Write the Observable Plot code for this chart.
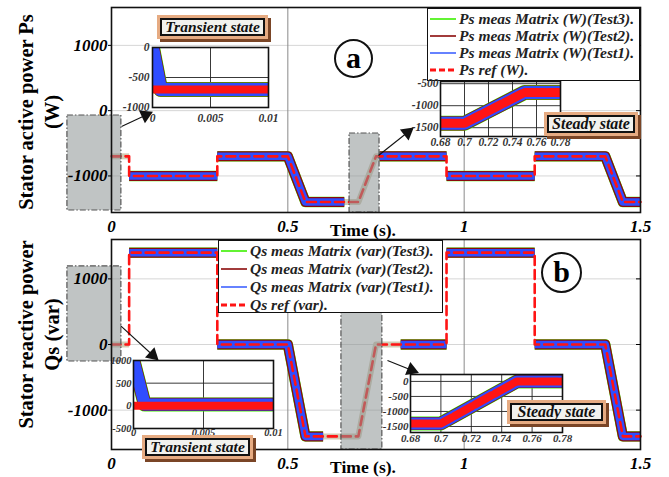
<!DOCTYPE html>
<html><head><meta charset="utf-8">
<script src="https://cdn.jsdelivr.net/npm/d3@7"></script>
<script src="https://cdn.jsdelivr.net/npm/@observablehq/plot@0.6"></script>
<style>
body{margin:0;background:#fff}
#root{position:relative;width:669px;height:477px;overflow:hidden;background:#fff;font-family:'Liberation Serif','Times New Roman',serif}
#root svg{overflow:visible}
.tag{position:absolute;box-sizing:border-box;background:#f2f2ee;border:2px solid #111;box-shadow:0 0 0 3px #e6ab82,3px 3px 0 3px #7a4526;font:italic bold 15.5px 'Liberation Serif',serif;display:flex;align-items:center;justify-content:center;color:#111;white-space:nowrap}
.legend{position:absolute;box-sizing:border-box;background:#fff;border:1.5px solid #111;font:italic bold 15.5px 'Liberation Serif',serif;color:#222}
.legend .row{position:absolute;left:2px;height:18px;display:flex;align-items:center;white-space:nowrap}
.legend .row svg{margin-right:3px}
.circ{position:absolute;box-sizing:border-box;border:2px solid #111;border-radius:50%;background:#fff;font:bold 30px 'Liberation Serif',serif;display:flex;align-items:center;justify-content:center;line-height:1}
</style></head><body><div id="root"></div>
<script>
// ---------- data ----------
const timeTicks = [0, 0.5, 1, 1.5];
const timeGrid = [0.5, 1];
const psTicks = [1000, 0, -1000];
const qsTicks = [1000, 0, -1000];

// reference breakpoints (s) and values
const refT  = [0, 0.05, 0.05, 0.3, 0.3, 0.5, 0.55, 0.7, 0.75, 0.95, 0.95, 1.2, 1.2, 1.4, 1.45, 1.5];
const psRef = [-700, -700, -1000, -1000, -700, -700, -1400, -1400, -700, -700, -1000, -1000, -700, -700, -1400, -1400];
const qsRef = [0, 0, 1400, 1400, 0, 0, -1400, -1400, 0, 0, 1400, 1400, 0, 0, -1400, -1400];

// measured traces (Test1/2/3 overlap) – dense segments
const measSeg = [1,1, 2,2,2,2, 3,3, 4,4, 5,5,5,5];
const psMeasT = [0.05,0.3, 0.3,0.5,0.55,0.66, 0.76,0.95, 0.95,1.2, 1.2,1.4,1.45,1.5];
const psMeasV = [-1000,-1000, -700,-700,-1400,-1400, -700,-700, -1000,-1000, -700,-700,-1400,-1400];
const qsMeasT = [0.05,0.3, 0.3,0.5,0.55,0.6, 0.82,0.95, 0.95,1.2, 1.2,1.4,1.45,1.5];
const qsMeasV = [1400,1400, 0,0,-1400,-1400, 0,0, 1400,1400, 0,0,-1400,-1400];
// measured traces – faint segments
const faintSeg = [1,1, 2,2,2,2];
const psFaintT = [0,0.05, 0.66,0.7,0.75,0.76];
const psFaintV = [-700,-700, -1400,-1400,-700,-700];
const qsFaintT = [0,0.05, 0.6,0.7,0.75,0.82];
const qsFaintV = [0,0, -1400,-1400,0,0];

// zoom windows (time s, value)
const psZoomT1 = [-0.125, 0.675], psZoomT2 = [0.028, 0.760];
const psZoomV1 = [-74, -350],     psZoomV2 = [-1529, -1560];
const qsZoomT1 = [-0.125, 0.652], qsZoomT2 = [0.028, 0.768];
const qsZoomV1 = [1189, 518],     qsZoomV2 = [-259, -1600];

// arrows (from zoom window to inset)
const psArrowT1 = [0.0284, 0.757], psArrowV1 = [-243, -687];
const psArrowT2 = [0.1134, 0.8535], psArrowV2 = [-28, -273];
const qsArrowT1 = [0.0255, 0.7826], qsArrowV1 = [289, -244];
const qsArrowT2 = [0.1304, 0.8676], qsArrowV2 = [-229, -427];

// insets
const trTicks = [0, 0.005, 0.01];
const trGrid = [0.005];
const trRefT = [0, 0.01];
const psTrRef = [-700, -700];
const psTrMeasT = [0, 0.0007, 0.01];
const psTrMeas = [0, -700, -700];
const qsTrRef = [0, 0];
const qsTrMeasT = [0, 0.0008, 0.01];
const qsTrMeas = [1000, 30, 30];
const psTrTicks = [0, -500, -1000];
const qsTrTicks = [1000, 500, 0, -500];

const ssTicks = [0.68, 0.7, 0.72, 0.74, 0.76, 0.78];
const ssT = [0.68, 0.7, 0.75, 0.78];
const psSs = [-1400, -1400, -700, -700];
const qsSs = [-1400, -1400, 0, 0];
const psSsTicks = [-500, -1000, -1500];
const qsSsTicks = [0, -500, -1000, -1500];

const psLegend = ["Ps meas Matrix (W)(Test3).", "Ps meas Matrix (W)(Test2).", "Ps meas Matrix (W)(Test1).", "Ps ref (W)."];
const qsLegend = ["Qs meas Matrix (var)(Test3).", "Qs meas Matrix (var)(Test2).", "Qs meas Matrix (var)(Test1).", "Qs ref (var)."];
const psTitle = "Stator active power Ps\n(W)";
const qsTitle = "Stator reactive power\nQs (var)";
const timeTitle = "Time (s).";

// ---------- styling ----------
const FONT = "'Liberation Serif','Times New Roman',serif";
const C_GREEN = "#3cf000", C_DRED = "#8b0a0a", C_BLUE = "#2f4dff", C_RED = "#ff1414", C_FAINT = "#d2cbb4";
const root = document.getElementById("root");
function place(el, left, top) { el.style.position = "absolute"; el.style.left = left + "px"; el.style.top = top + "px"; root.appendChild(el); }
const rows = (T, V, S) => T.map((t, i) => ({t, v: V[i], s: S ? S[i] : 0}));
const fmt = d => String(d);

function mainPanel(c) {
  const W = 669, ml = 111, mr = 29;
  const meas = rows(c.measT, c.measV, measSeg);
  const faint = rows(c.faintT, c.faintV, faintSeg);
  const ref = rows(refT, c.refV);
  const zooms = c.zT1.map((t1, i) => ({t1, t2: c.zT2[i], v1: c.zV1[i], v2: c.zV2[i]}));
  const xPix = d3.scaleLinear([0, 1.5], [ml, W - mr]);
  const yPix = d3.scaleLinear(c.yDomain, [c.height - c.mb, c.mt]);
  const arrows = c.aT1.map((t1, i) => {
    const x1 = xPix(t1), y1 = yPix(c.aV1[i]), x2 = xPix(c.aT2[i]), y2 = yPix(c.aV2[i]);
    const L = Math.hypot(x2 - x1, y2 - y1), ux = (x2 - x1) / L, uy = (y2 - y1) / L;
    return {t1, v1: c.aV1[i], t2: c.aT2[i], v2: c.aV2[i],
      angle: Math.atan2(ux, -uy) * 180 / Math.PI,
      ht: xPix.invert(x2 - ux * 6.5), hv: yPix.invert(y2 - uy * 6.5)};
  });
  return Plot.plot({
    width: W, height: c.height, marginLeft: ml, marginRight: mr, marginTop: c.mt, marginBottom: c.mb,
    x: {domain: [0, 1.5]}, y: {domain: c.yDomain},
    style: {fontFamily: FONT, background: "transparent", overflow: "visible"},
    marks: [
      Plot.gridY(c.yTicks, {stroke: "#d6d6d6", strokeOpacity: 1}),
      Plot.ruleX(timeGrid, {stroke: "#8a8a8a", strokeWidth: 1}),
      Plot.line(faint, {x: "t", y: "v", z: "s", stroke: C_FAINT, strokeWidth: 6, strokeLinecap: "butt"}),
      Plot.line(meas, {x: "t", y: "v", z: "s", stroke: C_GREEN, strokeWidth: 10.4, strokeLinecap: "butt"}),
      Plot.line(meas, {x: "t", y: "v", z: "s", stroke: C_DRED, strokeWidth: 10, strokeLinecap: "butt"}),
      Plot.line(meas, {x: "t", y: "v", z: "s", stroke: C_BLUE, strokeWidth: 7.5, strokeLinecap: "butt"}),
      Plot.line(ref, {x: "t", y: "v", stroke: C_RED, strokeWidth: 2.6, strokeDasharray: "9,5"}),
      Plot.rect(zooms, {x1: "t1", x2: "t2", y1: "v1", y2: "v2", fill: "#8c9494", fillOpacity: 0.55, stroke: "#555", strokeWidth: 1.2, strokeDasharray: "6,2,1.5,2"}),
      Plot.frame({stroke: "#111", strokeWidth: 1.6}),
      Plot.axisY({ticks: c.yTicks, tickSize: 3, tickPadding: 1, tickFormat: fmt, fontSize: 17, fontStyle: "italic", fontWeight: "bold", label: null}),
      Plot.axisY({anchor: "right", ticks: c.yTicks, tickSize: -5, tickFormat: () => "", label: null}),
      Plot.axisX({ticks: timeTicks, tickSize: 0, tickPadding: 7, tickFormat: fmt, fontSize: 17, fontStyle: "italic", fontWeight: "bold", label: null}),
      Plot.text([timeTitle], {frameAnchor: "bottom", lineAnchor: "middle", dx: -13, dy: 18, fontSize: 17.5, fontWeight: "bold"}),
      Plot.text([c.title], {frameAnchor: "left", textAnchor: "middle", lineAnchor: "middle", dx: 37 - ml, dy: c.titleDy, rotate: -90, fontSize: 20.5, fontWeight: "bold", lineHeight: 1.27}),
      Plot.link(arrows, {x1: "t1", y1: "v1", x2: "t2", y2: "v2", stroke: "#111", strokeWidth: 1.1}),
      Plot.dot(arrows, {x: "ht", y: "hv", symbol: "triangle", r: 5.2, fill: "#111", stroke: "none", rotate: "angle"})
    ]
  });
}

function inset(c) {
  const meas = rows(c.measT, c.measV);
  const ref = rows(c.refT, c.refV);
  const lab = {fontSize: c.fs, fontStyle: "italic", fontWeight: "bold", fill: "#333", tickSize: 0, tickFormat: fmt, label: null};
  return Plot.plot({
    width: c.width, height: c.height, marginLeft: c.ml, marginRight: c.mr, marginTop: c.mt, marginBottom: c.mb,
    x: {domain: c.xDomain}, y: {domain: c.yDomain},
    style: {fontFamily: FONT, background: "transparent", overflow: "visible"},
    marks: [
      Plot.frame({fill: "white", stroke: "none"}),
      Plot.ruleX(c.gridX, {stroke: "#222", strokeWidth: 0.9}),
      Plot.ruleY(c.gridY, {stroke: "#222", strokeWidth: 0.9}),
      Plot.line(meas, {x: "t", y: "v", stroke: C_GREEN, strokeWidth: c.mw + 2, clip: true}),
      Plot.line(meas, {x: "t", y: "v", stroke: C_DRED, strokeWidth: c.mw + 1.2, clip: true}),
      Plot.line(meas, {x: "t", y: "v", stroke: C_BLUE, strokeWidth: c.mw, clip: true}),
      Plot.line(ref, {x: "t", y: "v", stroke: C_RED, strokeWidth: c.rw, strokeDasharray: c.dash, clip: true}),
      Plot.frame({stroke: "#111", strokeWidth: 1.6}),
      Plot.axisY({...lab, ticks: c.yTicks, tickPadding: c.ypad}),
      Plot.axisX({...lab, ticks: c.xTicks, tickPadding: c.xpad})
    ]
  });
}

function tag(text, left, top, w, h, fs) {
  const d = document.createElement("div"); d.className = "tag"; d.textContent = text;
  d.style.width = w + "px"; d.style.height = h + "px"; if (fs) d.style.fontSize = fs + "px";
  place(d, left, top);
}
function legend(labels, left, top, w, h, first, step) {
  const box = document.createElement("div"); box.className = "legend";
  box.style.width = w + "px"; box.style.height = h + "px";
  const styles = [{s: C_GREEN, w: 1.6}, {s: C_DRED, w: 1.6}, {s: "#3f62ff", w: 1.6}, {s: C_RED, w: 2.8, d: "6,3"}];
  labels.forEach((lab, i) => {
    const r = document.createElement("div"); r.className = "row";
    r.style.top = (first + i * step - 9 - 1.5) + "px";
    const st = styles[i];
    r.innerHTML = `<svg width="26" height="8"><line x1="0" y1="4" x2="26" y2="4" stroke="${st.s}" stroke-width="${st.w}" ${st.d ? `stroke-dasharray="${st.d}"` : ""}/></svg>`;
    const sp = document.createElement("span"); sp.textContent = lab; r.appendChild(sp);
    box.appendChild(r);
  });
  place(box, left, top);
}
function circ(letter, cx, cy, r) {
  const d = document.createElement("div"); d.className = "circ"; d.textContent = letter;
  d.style.width = 2 * r + "px"; d.style.height = 2 * r + "px";
  place(d, cx - r, cy - r);
}

// ---------- build ----------
place(mainPanel({height: 237, mt: 7, mb: 25, yDomain: [-1560, 1580], yTicks: psTicks, refV: psRef,
  measT: psMeasT, measV: psMeasV, faintT: psFaintT, faintV: psFaintV,
  zT1: psZoomT1, zT2: psZoomT2, zV1: psZoomV1, zV2: psZoomV2,
  aT1: psArrowT1, aV1: psArrowV1, aT2: psArrowT2, aV2: psArrowV2, title: psTitle, titleDy: 2}), 0, 0);
place(mainPanel({height: 240, mt: 2, mb: 28, yDomain: [-1600, 1600], yTicks: qsTicks, refV: qsRef,
  measT: qsMeasT, measV: qsMeasV, faintT: qsFaintT, faintV: qsFaintV,
  zT1: qsZoomT1, zT2: qsZoomT2, zV1: qsZoomV1, zV2: qsZoomV2,
  aT1: qsArrowT1, aV1: qsArrowV1, aT2: qsArrowT2, aV2: qsArrowV2, title: qsTitle, titleDy: -10}), 0, 237);

legend(psLegend, 427, 8, 213, 73, 11, 17.3);
legend(qsLegend, 218, 240, 225, 73, 11, 18);

place(inset({width: 162, height: 88, ml: 40, mr: 6, mt: 7, mb: 21, xDomain: [0, 0.01], yDomain: [-1000, 0],
  xTicks: trTicks, yTicks: psTrTicks, gridX: trGrid, gridY: [-500], fs: 11.5, xpad: 6, ypad: 3,
  refT: trRefT, refV: psTrRef, measT: psTrMeasT, measV: psTrMeas, mw: 13, rw: 8, dash: "19,2"}), 112, 40);
place(inset({width: 166, height: 78, ml: 40, mr: 6, mt: 5, mb: 18, xDomain: [0.68, 0.78], yDomain: [-1700, -450],
  xTicks: ssTicks, yTicks: psSsTicks, gridX: ssTicks, gridY: psSsTicks, fs: 11.5, xpad: 1, ypad: 2,
  refT: ssT, refV: psSs, measT: ssT, measV: psSs, mw: 13, rw: 9, dash: "20,3"}), 400, 76);
place(inset({width: 186, height: 96, ml: 40, mr: 6, mt: 7, mb: 21, xDomain: [0, 0.01], yDomain: [-500, 1000],
  xTicks: trTicks, yTicks: qsTrTicks, gridX: trGrid, gridY: [500, 0], fs: 10.5, xpad: 0, ypad: 2,
  refT: trRefT, refV: qsTrRef, measT: qsTrMeasT, measV: qsTrMeas, mw: 12, rw: 8, dash: "19,2"}), 93, 353);
place(inset({width: 198, height: 80, ml: 40, mr: 6, mt: 5, mb: 17, xDomain: [0.68, 0.78], yDomain: [-1700, 230],
  xTicks: ssTicks, yTicks: qsSsTicks, gridX: ssTicks, gridY: qsSsTicks, fs: 11, xpad: 2, ypad: 2,
  refT: ssT, refV: qsSs, measT: ssT, measV: qsSs, mw: 12, rw: 8, dash: "20,3"}), 370, 369);

tag("Transient state", 160, 18, 105, 18);
tag("Steady state", 547, 115, 88, 18, 16);
tag("Transient state", 145, 438, 105, 18);
tag("Steady state", 510, 403, 93, 18, 16);

circ("a", 353.5, 58, 19.5);
circ("b", 561.5, 272, 20.5);
</script></body></html>
